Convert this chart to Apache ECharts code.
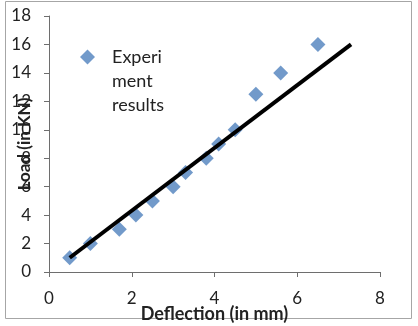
<!DOCTYPE html>
<html>
<head>
<meta charset="utf-8">
<script src="https://cdn.jsdelivr.net/npm/echarts@6/dist/echarts.min.js"></script>
<style>
  html, body { margin: 0; padding: 0; background: #fff; }
  #chart { width: 418px; height: 326px; }
</style>
</head>
<body>
<div id="chart"></div>
<script>
// measured points (deflection mm, load kN)
const deflection = [0.5, 1.0, 1.7, 2.1, 2.5, 3.0, 3.3, 3.8, 4.1, 4.5, 5.0, 5.6, 6.5];
const load = [1, 2, 3, 4, 5, 6, 7, 8, 9, 10, 12.5, 14, 16];
// linear trend line end points
const trendX = [0.5, 7.3];
const trendY = [1.0, 16.0];

const font = "Lato, 'Liberation Sans', sans-serif";
// two blank lines up front so the diamond lines up with the first text line
const seriesName = "\n\nExperi\nment\nresults";

const chart = echarts.init(document.getElementById("chart"));
chart.setOption({
  animation: false,
  grid: { left: 49, right: 38, top: 16, bottom: 54, containLabel: false, outerBoundsMode: "none" },
  graphic: [{
    type: "rect",
    shape: { x: 5.5, y: 1.5, width: 406, height: 317 },
    style: { fill: "none", stroke: "#a6a6a6", lineWidth: 1 },
    silent: true,
  }],
  legend: {
    data: [seriesName],
    left: 80,
    top: -3,
    padding: 0,
    icon: "diamond",
    itemWidth: 15,
    itemHeight: 15,
    textStyle: {
      fontFamily: font,
      fontSize: 18,
      color: "#222",
      lineHeight: 24,
      padding: [0, 0, 0, 12],
    },
  },
  xAxis: {
    type: "value",
    min: 0,
    max: 8,
    interval: 2,
    name: "Deflection (in mm)",
    nameLocation: "middle",
    nameGap: 33,
    nameMoveOverlap: false,
    nameTextStyle: { fontFamily: font, fontSize: 18, fontWeight: "bold", color: "#222" },
    axisLine: { lineStyle: { color: "#6e6e6e" } },
    axisTick: { show: true, length: 5, lineStyle: { color: "#6e6e6e" } },
    axisLabel: { fontFamily: font, fontSize: 17, color: "#222", margin: 18 },
    splitLine: { show: false },
  },
  yAxis: {
    type: "value",
    min: 0,
    max: 18,
    interval: 2,
    name: "Load (in KN)",
    nameLocation: "middle",
    nameGap: 16,
    nameMoveOverlap: false,
    nameTextStyle: { fontFamily: font, fontSize: 17, fontWeight: "bold", color: "#222" },
    axisLine: { show: true, lineStyle: { color: "#6e6e6e" } },
    axisTick: { show: true, length: 5, lineStyle: { color: "#6e6e6e" } },
    axisLabel: { fontFamily: font, fontSize: 17, color: "#222", margin: 18 },
    splitLine: { show: false },
  },
  series: [
    {
      name: seriesName,
      type: "scatter",
      symbol: "diamond",
      symbolSize: 15,
      itemStyle: { color: "#4f81bd" },
      data: deflection.map((d, i) => [d, load[i]]),
      z: 2,
    },
    {
      name: "trend",
      type: "line",
      showSymbol: false,
      symbol: "none",
      lineStyle: { color: "#000", width: 4 },
      data: trendX.map((d, i) => [d, trendY[i]]),
      z: 3,
    },
  ],
});
</script>
</body>
</html>
